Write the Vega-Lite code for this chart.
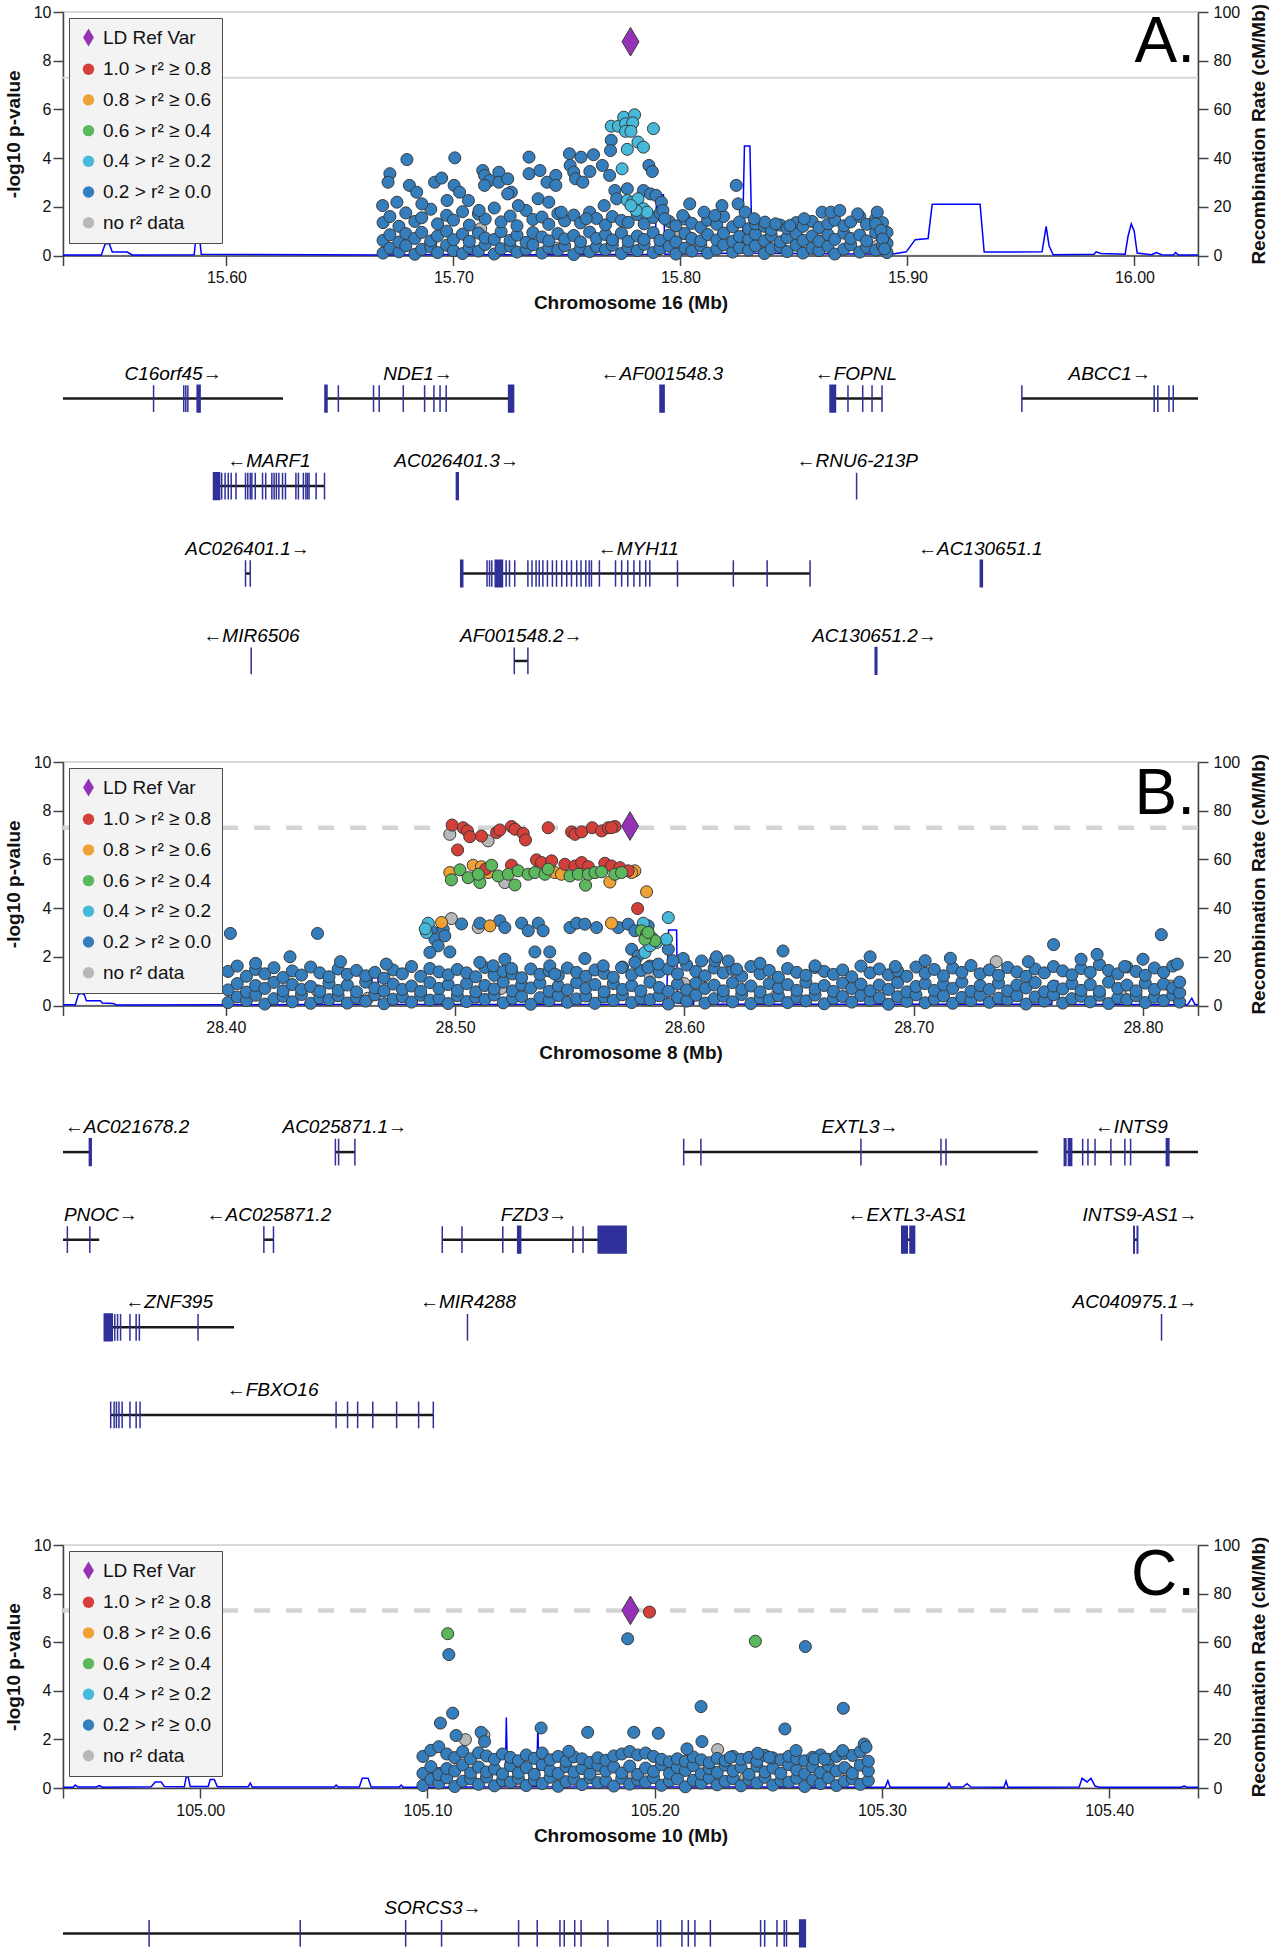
{
"$schema": "https://vega.github.io/schema/vega-lite/v6.json",
"padding": {"top": 2, "left": 3, "right": 0, "bottom": 0},
"background": "white",
"spacing": 0,
"bounds": "flush",
"config": {
 "font": "Liberation Sans",
 "view": {"stroke": null},
 "axis": {"grid": false, "domainColor": "#444444", "domainWidth": 1.5, "tickColor": "#444444", "tickWidth": 1.5, "tickSize": 10, "labelColor": "#111111", "labelFontSize": 16, "titleColor": "#111111", "titleFontSize": 19, "titleFontWeight": "bold", "labelOverlap": false, "labelFlush": false},
 "legend": {"orient": "top-left", "offset": 6, "padding": 10, "fillColor": "#f3f3f3", "strokeColor": "#4d4d4d", "labelFontSize": 19, "labelColor": "#111111", "symbolSize": 130, "rowPadding": 10.7, "labelOffset": 5, "symbolStrokeColor": "#444444", "symbolStrokeWidth": 1, "symbolOpacity": 1}
},
"resolve": {"scale": {"x": "independent", "y": "independent", "color": "independent", "shape": "independent"}},
"vconcat": [
 {
  "width": 1135, "height": 243.5,
  "view": {"stroke": "#d9d9d9", "strokeWidth": 2},
  "resolve": {"scale": {"y": "independent"}},
  "layer": [
   {"data": {"name": "recA"}, "mark": {"type": "line", "color": "#0000ff", "strokeWidth": 1.5},
    "encoding": {
     "x": {"field": "x", "type": "quantitative", "title": "Chromosome 16 (Mb)", "scale": {"domain": [15.528, 16.028], "nice": false, "zero": false},
       "axis": {"values": [15.528, 15.6, 15.7, 15.8, 15.9, 16.0, 16.028], "labelExpr": "datum.value < 15.55 || datum.value > 16.01 ? '' : format(datum.value, '.2f')", "labelPadding": 4, "titlePadding": 8}},
     "y": {"field": "r", "type": "quantitative", "title": "Recombination Rate (cM/Mb)", "scale": {"domain": [0, 100], "nice": false},
       "axis": {"orient": "right", "values": [0, 20, 40, 60, 80, 100], "titleAngle": 270, "titleBaseline": "top", "labelPadding": 5, "titlePadding": 10}}
    }},
   {"layer": [
    {"data": {"values": [{}]}, "mark": {"type": "rule", "color": "#d9d9d9", "strokeWidth": 2},
     "encoding": {"y": {"datum": 7.301, "type": "quantitative", "title": "-log10 p-value", "scale": {"domain": [0, 10], "nice": false},
       "axis": {"values": [0, 2, 4, 6, 8, 10], "labelPadding": 2, "titlePadding": 10}}}},
    {"data": {"name": "nA"}, "mark": {"type": "point", "filled": true, "opacity": 1, "stroke": "#3a3a3a", "strokeWidth": 1, "size": 145},
     "encoding": {"x": {"field": "x", "type": "quantitative", "title": "Chromosome 16 (Mb)"}, "y": {"field": "p", "type": "quantitative", "title": "-log10 p-value"},
      "color": {"datum": "n", "type": "nominal", "scale": {"domain": ["d","r","o","g","l","b","n"], "range": ["#9632b8","#d43f3a","#eea236","#5cb85c","#46b8da","#357ebd","#b8b8b8"]}},
      "shape": {"datum": "n", "type": "nominal", "scale": {"domain": ["d","r","o","g","l","b","n"], "range": ["M0,-1.6L0.95,0L0,1.6L-0.95,0Z","circle","circle","circle","circle","circle","circle"]}}}},
    {"data": {"name": "bA"}, "mark": {"type": "point", "filled": true, "opacity": 1, "stroke": "#3a3a3a", "strokeWidth": 1, "size": 145},
     "encoding": {"x": {"field": "x", "type": "quantitative", "title": "Chromosome 16 (Mb)"}, "y": {"field": "p", "type": "quantitative", "title": "-log10 p-value"},
      "color": {"datum": "b", "type": "nominal"},
      "shape": {"datum": "b", "type": "nominal"}}},
    {"data": {"name": "cA"}, "mark": {"type": "point", "filled": true, "opacity": 1, "stroke": "#3a3a3a", "strokeWidth": 1},
     "encoding": {"x": {"field": "x", "type": "quantitative", "title": "Chromosome 16 (Mb)"}, "y": {"field": "p", "type": "quantitative", "title": "-log10 p-value"},
      "size": {"condition": {"test": "datum.c === 'd'", "value": 320}, "value": 145},
      "color": {"field": "c", "type": "nominal", "title": null, "legend": {"labelExpr": "datum.label == 'd' ? 'LD Ref Var' : datum.label == 'r' ? '1.0 > r² ≥ 0.8' : datum.label == 'o' ? '0.8 > r² ≥ 0.6' : datum.label == 'g' ? '0.6 > r² ≥ 0.4' : datum.label == 'l' ? '0.4 > r² ≥ 0.2' : datum.label == 'b' ? '0.2 > r² ≥ 0.0' : 'no r² data'"}},
      "shape": {"field": "c", "type": "nominal", "title": null, "legend": {"labelExpr": "datum.label == 'd' ? 'LD Ref Var' : datum.label == 'r' ? '1.0 > r² ≥ 0.8' : datum.label == 'o' ? '0.8 > r² ≥ 0.6' : datum.label == 'g' ? '0.6 > r² ≥ 0.4' : datum.label == 'l' ? '0.4 > r² ≥ 0.2' : datum.label == 'b' ? '0.2 > r² ≥ 0.0' : 'no r² data'"}}}},
    {"data": {"values": [{}]}, "mark": {"type": "text", "text": "A.", "fontSize": 64, "align": "right", "baseline": "alphabetic", "dx": -3, "dy": 50, "color": "#000000"},
     "encoding": {"x": {"datum": 16.028, "type": "quantitative", "title": "Chromosome 16 (Mb)"}, "y": {"datum": 10, "type": "quantitative", "title": "-log10 p-value"}}}
   ]}
  ]
 },
 {
  "width": 1135, "height": 505.8,
  "layer": [
   {"data": {"name": "gA"}, "mark": {"type": "rule", "color": "#1a1a1a", "strokeWidth": 2.5},
    "encoding": {"x": {"field": "s", "type": "quantitative", "scale": {"domain": [15.528, 16.028], "nice": false, "zero": false}, "axis": null}, "x2": {"field": "e"},
     "y": {"field": "r", "type": "ordinal", "scale": {"domain": [0, 1, 2, 3, 4], "paddingInner": 0.6948, "paddingOuter": 0.7393, "align": 0.3234}, "axis": null}}},
   {"data": {"name": "eA"}, "mark": {"type": "rect", "color": "#30309a", "stroke": "#30309a", "strokeWidth": 1.5},
    "encoding": {"x": {"field": "s", "type": "quantitative", "axis": null}, "x2": {"field": "e"}, "y": {"field": "r", "type": "ordinal", "axis": null}}},
   {"data": {"name": "gA"}, "mark": {"type": "text", "fontSize": 19, "fontStyle": "italic", "dy": -19, "baseline": "alphabetic", "color": "#000000"},
    "encoding": {"x": {"field": "lx", "type": "quantitative", "axis": null}, "y": {"field": "r", "type": "ordinal", "axis": null}, "text": {"field": "label"}}}
  ]
 },
 {
  "width": 1135, "height": 243.5,
  "view": {"stroke": "#d9d9d9", "strokeWidth": 2},
  "resolve": {"scale": {"y": "independent"}},
  "layer": [
   {"data": {"name": "recB"}, "mark": {"type": "line", "color": "#0000ff", "strokeWidth": 1.5},
    "encoding": {
     "x": {"field": "x", "type": "quantitative", "title": "Chromosome 8 (Mb)", "scale": {"domain": [28.329, 28.824], "nice": false, "zero": false},
       "axis": {"values": [28.329, 28.4, 28.5, 28.6, 28.7, 28.8, 28.824], "labelExpr": "datum.value < 28.35 || datum.value > 28.81 ? '' : format(datum.value, '.2f')", "labelPadding": 4, "titlePadding": 8}},
     "y": {"field": "r", "type": "quantitative", "title": "Recombination Rate (cM/Mb)", "scale": {"domain": [0, 100], "nice": false},
       "axis": {"orient": "right", "values": [0, 20, 40, 60, 80, 100], "titleAngle": 270, "titleBaseline": "top", "labelPadding": 5, "titlePadding": 10}}
    }},
   {"layer": [
    {"data": {"values": [{}]}, "mark": {"type": "rule", "color": "#d4d4d4", "strokeWidth": 4.5, "strokeDash": [16, 16]},
     "encoding": {"y": {"datum": 7.301, "type": "quantitative", "title": "-log10 p-value", "scale": {"domain": [0, 10], "nice": false},
       "axis": {"values": [0, 2, 4, 6, 8, 10], "labelPadding": 2, "titlePadding": 10}}}},
    {"data": {"name": "nB"}, "mark": {"type": "point", "filled": true, "opacity": 1, "stroke": "#3a3a3a", "strokeWidth": 1, "size": 145},
     "encoding": {"x": {"field": "x", "type": "quantitative", "title": "Chromosome 8 (Mb)"}, "y": {"field": "p", "type": "quantitative", "title": "-log10 p-value"},
      "color": {"datum": "n", "type": "nominal", "scale": {"domain": ["d","r","o","g","l","b","n"], "range": ["#9632b8","#d43f3a","#eea236","#5cb85c","#46b8da","#357ebd","#b8b8b8"]}},
      "shape": {"datum": "n", "type": "nominal", "scale": {"domain": ["d","r","o","g","l","b","n"], "range": ["M0,-1.6L0.95,0L0,1.6L-0.95,0Z","circle","circle","circle","circle","circle","circle"]}}}},
    {"data": {"name": "bB"}, "mark": {"type": "point", "filled": true, "opacity": 1, "stroke": "#3a3a3a", "strokeWidth": 1, "size": 145},
     "encoding": {"x": {"field": "x", "type": "quantitative", "title": "Chromosome 8 (Mb)"}, "y": {"field": "p", "type": "quantitative", "title": "-log10 p-value"},
      "color": {"datum": "b", "type": "nominal"},
      "shape": {"datum": "b", "type": "nominal"}}},
    {"data": {"name": "cB"}, "mark": {"type": "point", "filled": true, "opacity": 1, "stroke": "#3a3a3a", "strokeWidth": 1},
     "encoding": {"x": {"field": "x", "type": "quantitative", "title": "Chromosome 8 (Mb)"}, "y": {"field": "p", "type": "quantitative", "title": "-log10 p-value"},
      "size": {"condition": {"test": "datum.c === 'd'", "value": 320}, "value": 145},
      "color": {"field": "c", "type": "nominal", "title": null, "legend": {"labelExpr": "datum.label == 'd' ? 'LD Ref Var' : datum.label == 'r' ? '1.0 > r² ≥ 0.8' : datum.label == 'o' ? '0.8 > r² ≥ 0.6' : datum.label == 'g' ? '0.6 > r² ≥ 0.4' : datum.label == 'l' ? '0.4 > r² ≥ 0.2' : datum.label == 'b' ? '0.2 > r² ≥ 0.0' : 'no r² data'"}},
      "shape": {"field": "c", "type": "nominal", "title": null, "legend": {"labelExpr": "datum.label == 'd' ? 'LD Ref Var' : datum.label == 'r' ? '1.0 > r² ≥ 0.8' : datum.label == 'o' ? '0.8 > r² ≥ 0.6' : datum.label == 'g' ? '0.6 > r² ≥ 0.4' : datum.label == 'l' ? '0.4 > r² ≥ 0.2' : datum.label == 'b' ? '0.2 > r² ≥ 0.0' : 'no r² data'"}}}},
    {"data": {"values": [{}]}, "mark": {"type": "text", "text": "B.", "fontSize": 64, "align": "right", "baseline": "alphabetic", "dx": -3, "dy": 52, "color": "#000000"},
     "encoding": {"x": {"datum": 28.824, "type": "quantitative", "title": "Chromosome 8 (Mb)"}, "y": {"datum": 10, "type": "quantitative", "title": "-log10 p-value"}}}
   ]}
  ]
 },
 {
  "width": 1135, "height": 539,
  "layer": [
   {"data": {"name": "gB"}, "mark": {"type": "rule", "color": "#1a1a1a", "strokeWidth": 2.5},
    "encoding": {"x": {"field": "s", "type": "quantitative", "scale": {"domain": [28.329, 28.824], "nice": false, "zero": false}, "axis": null}, "x2": {"field": "e"},
     "y": {"field": "r", "type": "ordinal", "scale": {"domain": [0, 1, 2, 3, 4], "paddingInner": 0.6952, "paddingOuter": 0.924, "align": 0.2789}, "axis": null}}},
   {"data": {"name": "eB"}, "mark": {"type": "rect", "color": "#30309a", "stroke": "#30309a", "strokeWidth": 1.5},
    "encoding": {"x": {"field": "s", "type": "quantitative", "axis": null}, "x2": {"field": "e"}, "y": {"field": "r", "type": "ordinal", "axis": null}}},
   {"data": {"name": "gB"}, "mark": {"type": "text", "fontSize": 19, "fontStyle": "italic", "dy": -19, "baseline": "alphabetic", "color": "#000000"},
    "encoding": {"x": {"field": "lx", "type": "quantitative", "axis": null}, "y": {"field": "r", "type": "ordinal", "axis": null}, "text": {"field": "label"}}}
  ]
 },
 {
  "width": 1135, "height": 243,
  "view": {"stroke": "#d9d9d9", "strokeWidth": 2},
  "resolve": {"scale": {"y": "independent"}},
  "layer": [
   {"data": {"name": "recC"}, "mark": {"type": "line", "color": "#0000ff", "strokeWidth": 1.5},
    "encoding": {
     "x": {"field": "x", "type": "quantitative", "title": "Chromosome 10 (Mb)", "scale": {"domain": [104.9396, 105.4391], "nice": false, "zero": false},
       "axis": {"values": [104.9396, 105.0, 105.1, 105.2, 105.3, 105.4, 105.4391], "labelExpr": "datum.value < 104.96 || datum.value > 105.42 ? '' : format(datum.value, '.2f')", "labelPadding": 4, "titlePadding": 8}},
     "y": {"field": "r", "type": "quantitative", "title": "Recombination Rate (cM/Mb)", "scale": {"domain": [0, 100], "nice": false},
       "axis": {"orient": "right", "values": [0, 20, 40, 60, 80, 100], "titleAngle": 270, "titleBaseline": "top", "labelPadding": 5, "titlePadding": 10}}
    }},
   {"layer": [
    {"data": {"values": [{}]}, "mark": {"type": "rule", "color": "#d4d4d4", "strokeWidth": 4.5, "strokeDash": [16, 16]},
     "encoding": {"y": {"datum": 7.301, "type": "quantitative", "title": "-log10 p-value", "scale": {"domain": [0, 10], "nice": false},
       "axis": {"values": [0, 2, 4, 6, 8, 10], "labelPadding": 2, "titlePadding": 10}}}},
    {"data": {"name": "nC"}, "mark": {"type": "point", "filled": true, "opacity": 1, "stroke": "#3a3a3a", "strokeWidth": 1, "size": 145},
     "encoding": {"x": {"field": "x", "type": "quantitative", "title": "Chromosome 10 (Mb)"}, "y": {"field": "p", "type": "quantitative", "title": "-log10 p-value"},
      "color": {"datum": "n", "type": "nominal", "scale": {"domain": ["d","r","o","g","l","b","n"], "range": ["#9632b8","#d43f3a","#eea236","#5cb85c","#46b8da","#357ebd","#b8b8b8"]}},
      "shape": {"datum": "n", "type": "nominal", "scale": {"domain": ["d","r","o","g","l","b","n"], "range": ["M0,-1.6L0.95,0L0,1.6L-0.95,0Z","circle","circle","circle","circle","circle","circle"]}}}},
    {"data": {"name": "bC"}, "mark": {"type": "point", "filled": true, "opacity": 1, "stroke": "#3a3a3a", "strokeWidth": 1, "size": 145},
     "encoding": {"x": {"field": "x", "type": "quantitative", "title": "Chromosome 10 (Mb)"}, "y": {"field": "p", "type": "quantitative", "title": "-log10 p-value"},
      "color": {"datum": "b", "type": "nominal"},
      "shape": {"datum": "b", "type": "nominal"}}},
    {"data": {"name": "cC"}, "mark": {"type": "point", "filled": true, "opacity": 1, "stroke": "#3a3a3a", "strokeWidth": 1},
     "encoding": {"x": {"field": "x", "type": "quantitative", "title": "Chromosome 10 (Mb)"}, "y": {"field": "p", "type": "quantitative", "title": "-log10 p-value"},
      "size": {"condition": {"test": "datum.c === 'd'", "value": 320}, "value": 145},
      "color": {"field": "c", "type": "nominal", "title": null, "legend": {"labelExpr": "datum.label == 'd' ? 'LD Ref Var' : datum.label == 'r' ? '1.0 > r² ≥ 0.8' : datum.label == 'o' ? '0.8 > r² ≥ 0.6' : datum.label == 'g' ? '0.6 > r² ≥ 0.4' : datum.label == 'l' ? '0.4 > r² ≥ 0.2' : datum.label == 'b' ? '0.2 > r² ≥ 0.0' : 'no r² data'"}},
      "shape": {"field": "c", "type": "nominal", "title": null, "legend": {"labelExpr": "datum.label == 'd' ? 'LD Ref Var' : datum.label == 'r' ? '1.0 > r² ≥ 0.8' : datum.label == 'o' ? '0.8 > r² ≥ 0.6' : datum.label == 'g' ? '0.6 > r² ≥ 0.4' : datum.label == 'l' ? '0.4 > r² ≥ 0.2' : datum.label == 'b' ? '0.2 > r² ≥ 0.0' : 'no r² data'"}}}},
    {"data": {"values": [{}]}, "mark": {"type": "text", "text": "C.", "fontSize": 64, "align": "right", "baseline": "alphabetic", "dx": -3, "dy": 50, "color": "#000000"},
     "encoding": {"x": {"datum": 105.4391, "type": "quantitative", "title": "Chromosome 10 (Mb)"}, "y": {"datum": 10, "type": "quantitative", "title": "-log10 p-value"}}}
   ]}
  ]
 },
 {
  "width": 1135, "height": 162,
  "layer": [
   {"data": {"name": "gC"}, "mark": {"type": "rule", "color": "#1a1a1a", "strokeWidth": 2.5},
    "encoding": {"x": {"field": "s", "type": "quantitative", "scale": {"domain": [104.9396, 105.4391], "nice": false, "zero": false}, "axis": null}, "x2": {"field": "e"},
     "y": {"field": "r", "type": "ordinal", "scale": {"domain": [0, 1], "paddingInner": 0.408, "paddingOuter": 1, "align": 0.964}, "axis": null}}},
   {"data": {"name": "eC"}, "mark": {"type": "rect", "color": "#30309a", "stroke": "#30309a", "strokeWidth": 1.5},
    "encoding": {"x": {"field": "s", "type": "quantitative", "axis": null}, "x2": {"field": "e"}, "y": {"field": "r", "type": "ordinal", "axis": null}}},
   {"data": {"name": "gC"}, "mark": {"type": "text", "fontSize": 19, "fontStyle": "italic", "dy": -19, "baseline": "alphabetic", "color": "#000000"},
    "encoding": {"x": {"field": "lx", "type": "quantitative", "axis": null}, "y": {"field": "r", "type": "ordinal", "axis": null}, "text": {"field": "label"}}}
  ]
 }
],
"datasets": {
 "recA": [{"x":15.528,"r":0.2},{"x":15.5449,"r":0.2},{"x":15.5466,"r":4.8},{"x":15.5484,"r":4.8},{"x":15.5497,"r":1.4},{"x":15.5563,"r":1.4},{"x":15.5585,"r":0.2},{"x":15.5858,"r":0.3},{"x":15.5867,"r":9},{"x":15.588,"r":9},{"x":15.5889,"r":0.5},{"x":15.6682,"r":0.2},{"x":15.7,"r":0.4},{"x":15.74,"r":0.3},{"x":15.7888,"r":0.5},{"x":15.7895,"r":25},{"x":15.7925,"r":25},{"x":15.7932,"r":0.5},{"x":15.8272,"r":1},{"x":15.8282,"r":45},{"x":15.8306,"r":45},{"x":15.8316,"r":1},{"x":15.8929,"r":0.5},{"x":15.8995,"r":1.5},{"x":15.9034,"r":6.5},{"x":15.9091,"r":7},{"x":15.9109,"r":21},{"x":15.932,"r":21},{"x":15.9338,"r":1.4},{"x":15.9593,"r":1.5},{"x":15.9611,"r":12},{"x":15.9624,"r":4},{"x":15.9642,"r":0.3},{"x":15.9822,"r":0.5},{"x":15.9831,"r":1.5},{"x":15.9853,"r":0.8},{"x":15.9959,"r":0.5},{"x":15.9972,"r":8},{"x":15.9986,"r":13},{"x":15.9999,"r":10},{"x":16.0012,"r":1},{"x":16.0075,"r":0.3},{"x":16.0097,"r":1.2},{"x":16.0119,"r":0.3},{"x":16.0172,"r":0.2},{"x":16.0181,"r":1.2},{"x":16.0194,"r":0.2},{"x":16.028,"r":0.2}],
 "nA": [{"x":15.69,"p":0.5},{"x":15.745,"p":0.3},{"x":15.77,"p":0.6},{"x":15.8,"p":0.9},{"x":15.838,"p":0.4},{"x":15.862,"p":0.7},{"x":15.887,"p":0.4},{"x":15.712,"p":1.1},{"x":15.85,"p":1.2}],
 "bA": [
{"x":15.669,"p":0.10},{"x":15.669,"p":0.62},{"x":15.669,"p":1.35},
{"x":15.672,"p":0.30},{"x":15.672,"p":0.85},{"x":15.672,"p":1.60},
{"x":15.676,"p":0.15},{"x":15.676,"p":0.55},{"x":15.676,"p":1.20},
{"x":15.679,"p":0.40},{"x":15.679,"p":0.90},{"x":15.679,"p":1.75},
{"x":15.683,"p":0.05},{"x":15.683,"p":0.70},{"x":15.683,"p":1.40},
{"x":15.686,"p":0.25},{"x":15.686,"p":0.95},{"x":15.686,"p":1.55},
{"x":15.690,"p":0.35},{"x":15.690,"p":0.60},{"x":15.690,"p":1.90},
{"x":15.693,"p":0.12},{"x":15.693,"p":0.80},{"x":15.693,"p":1.30},
{"x":15.697,"p":0.42},{"x":15.697,"p":1.00},{"x":15.697,"p":1.65},
{"x":15.700,"p":0.20},{"x":15.700,"p":0.65},{"x":15.700,"p":1.45},
{"x":15.704,"p":0.08},{"x":15.704,"p":0.88},{"x":15.704,"p":1.80},
{"x":15.707,"p":0.33},{"x":15.707,"p":0.58},{"x":15.707,"p":1.25},
{"x":15.711,"p":0.18},{"x":15.711,"p":0.92},{"x":15.711,"p":1.70},
{"x":15.714,"p":0.45},{"x":15.714,"p":0.72},{"x":15.714,"p":1.50},
{"x":15.718,"p":0.06},{"x":15.718,"p":0.66},{"x":15.718,"p":1.95},
{"x":15.721,"p":0.28},{"x":15.721,"p":0.98},{"x":15.721,"p":1.38},
{"x":15.725,"p":0.38},{"x":15.725,"p":0.62},{"x":15.725,"p":1.62},
{"x":15.728,"p":0.14},{"x":15.728,"p":0.84},{"x":15.728,"p":1.22},
{"x":15.732,"p":0.26},{"x":15.732,"p":0.54},{"x":15.732,"p":1.85},
{"x":15.735,"p":0.44},{"x":15.735,"p":0.94},{"x":15.735,"p":1.48},
{"x":15.739,"p":0.10},{"x":15.739,"p":0.76},{"x":15.739,"p":1.58},
{"x":15.742,"p":0.32},{"x":15.742,"p":0.60},{"x":15.742,"p":1.28},
{"x":15.746,"p":0.22},{"x":15.746,"p":0.90},{"x":15.746,"p":1.72},
{"x":15.749,"p":0.40},{"x":15.749,"p":0.68},{"x":15.749,"p":1.42},
{"x":15.753,"p":0.04},{"x":15.753,"p":0.82},{"x":15.753,"p":1.66},
{"x":15.756,"p":0.30},{"x":15.756,"p":0.56},{"x":15.756,"p":1.34},
{"x":15.760,"p":0.16},{"x":15.760,"p":0.96},{"x":15.760,"p":1.78},
{"x":15.763,"p":0.36},{"x":15.763,"p":0.70},{"x":15.763,"p":1.52},
{"x":15.767,"p":0.24},{"x":15.767,"p":0.86},{"x":15.767,"p":1.26},
{"x":15.770,"p":0.42},{"x":15.770,"p":0.64},{"x":15.770,"p":1.60},
{"x":15.774,"p":0.08},{"x":15.774,"p":0.92},{"x":15.774,"p":1.44},
{"x":15.777,"p":0.34},{"x":15.777,"p":0.58},{"x":15.777,"p":1.36},
{"x":15.781,"p":0.20},{"x":15.781,"p":0.80},{"x":15.781,"p":1.68},
{"x":15.784,"p":0.46},{"x":15.784,"p":0.66},{"x":15.784,"p":1.30},
{"x":15.788,"p":0.12},{"x":15.788,"p":0.94},{"x":15.788,"p":1.56},
{"x":15.791,"p":0.28},{"x":15.791,"p":0.62},{"x":15.791,"p":1.74},
{"x":15.795,"p":0.38},{"x":15.795,"p":0.84},{"x":15.795,"p":1.40},
{"x":15.798,"p":0.06},{"x":15.798,"p":0.56},{"x":15.798,"p":1.22},
{"x":15.802,"p":0.30},{"x":15.802,"p":0.90},{"x":15.802,"p":1.50},
{"x":15.805,"p":0.18},{"x":15.805,"p":0.70},{"x":15.805,"p":1.32},
{"x":15.809,"p":0.40},{"x":15.809,"p":0.60},{"x":15.809,"p":1.15},
{"x":15.812,"p":0.10},{"x":15.812,"p":0.86},{"x":15.812,"p":1.45},
{"x":15.816,"p":0.26},{"x":15.816,"p":0.64},{"x":15.816,"p":1.28},
{"x":15.819,"p":0.44},{"x":15.819,"p":0.92},{"x":15.819,"p":1.60},
{"x":15.823,"p":0.14},{"x":15.823,"p":0.58},{"x":15.823,"p":1.18},
{"x":15.826,"p":0.32},{"x":15.826,"p":0.78},{"x":15.826,"p":1.38},
{"x":15.830,"p":0.22},{"x":15.830,"p":0.66},{"x":15.830,"p":1.10},
{"x":15.833,"p":0.40},{"x":15.833,"p":0.88},{"x":15.833,"p":1.30},
{"x":15.837,"p":0.08},{"x":15.837,"p":0.60},{"x":15.837,"p":1.20},
{"x":15.840,"p":0.28},{"x":15.840,"p":0.82},{"x":15.840,"p":1.05},
{"x":15.844,"p":0.36},{"x":15.844,"p":0.56},{"x":15.844,"p":1.25},
{"x":15.847,"p":0.16},{"x":15.847,"p":0.74},{"x":15.847,"p":1.12},
{"x":15.851,"p":0.42},{"x":15.851,"p":0.90},{"x":15.851,"p":1.35},
{"x":15.854,"p":0.10},{"x":15.854,"p":0.62},{"x":15.854,"p":1.20},
{"x":15.858,"p":0.30},{"x":15.858,"p":0.80},{"x":15.858,"p":1.40},
{"x":15.861,"p":0.20},{"x":15.861,"p":0.58},{"x":15.861,"p":1.15},
{"x":15.865,"p":0.38},{"x":15.865,"p":0.86},{"x":15.865,"p":1.30},
{"x":15.868,"p":0.06},{"x":15.868,"p":0.66},{"x":15.868,"p":1.45},
{"x":15.872,"p":0.26},{"x":15.872,"p":0.92},{"x":15.872,"p":1.22},
{"x":15.875,"p":0.44},{"x":15.875,"p":0.70},{"x":15.875,"p":1.38},
{"x":15.879,"p":0.14},{"x":15.879,"p":0.84},{"x":15.879,"p":1.60},
{"x":15.882,"p":0.34},{"x":15.882,"p":0.60},{"x":15.882,"p":1.28},
{"x":15.886,"p":0.22},{"x":15.886,"p":0.94},{"x":15.886,"p":1.50},
{"x":15.889,"p":0.40},{"x":15.889,"p":0.72},{"x":15.889,"p":1.35},
{"x":15.891,"p":0.12},{"x":15.891,"p":0.50},{"x":15.891,"p":0.95},
{"x":15.6795,"p":3.94},{"x":15.7006,"p":4.01},{"x":15.672,"p":3.36},{"x":15.6712,"p":3.01},{"x":15.6806,"p":2.88},{"x":15.6838,"p":2.6},{"x":15.6917,"p":3.01},{"x":15.6948,"p":3.18},{"x":15.7003,"p":2.88},{"x":15.7027,"p":2.6},
{"x":15.7129,"p":3.49},{"x":15.7137,"p":3.29},{"x":15.716,"p":3.08},{"x":15.7137,"p":2.88},{"x":15.72,"p":3.42},{"x":15.72,"p":3.01},{"x":15.7239,"p":3.15},{"x":15.7255,"p":2.6},{"x":15.7239,"p":2.53},
{"x":15.7333,"p":4.04},{"x":15.7333,"p":3.36},{"x":15.7381,"p":3.49},{"x":15.7412,"p":3.01},{"x":15.7451,"p":3.29},{"x":15.7451,"p":2.88},{"x":15.7373,"p":2.33},{"x":15.742,"p":2.19},
{"x":15.7511,"p":4.18},{"x":15.7562,"p":4.04},{"x":15.7617,"p":4.14},{"x":15.7514,"p":3.7},{"x":15.753,"p":3.42},{"x":15.7538,"p":3.15},{"x":15.757,"p":3.01},{"x":15.7601,"p":3.45},{"x":15.7656,"p":3.7},{"x":15.7688,"p":3.29},
{"x":15.7695,"p":4.73},{"x":15.7692,"p":4.31},{"x":15.7711,"p":2.67},{"x":15.7719,"p":2.33},{"x":15.7664,"p":2.05},{"x":15.7766,"p":2.74},
{"x":15.7861,"p":3.7},{"x":15.7876,"p":3.45},{"x":15.7837,"p":2.67},{"x":15.7868,"p":2.53},{"x":15.7892,"p":2.47},{"x":15.7916,"p":2.19},{"x":15.7923,"p":1.85},{"x":15.7931,"p":1.51},
{"x":15.8041,"p":2.12},{"x":15.8104,"p":1.78},{"x":15.8183,"p":2.05},{"x":15.8246,"p":2.88},{"x":15.8254,"p":2.12},{"x":15.8285,"p":1.78},{"x":15.8372,"p":1.37},{"x":15.8419,"p":1.3},
{"x":15.8624,"p":1.78},{"x":15.8663,"p":1.78},{"x":15.8702,"p":1.85},{"x":15.8781,"p":1.71},{"x":15.8867,"p":1.78},{"x":15.886,"p":1.3},{"x":15.8883,"p":1.03},{"x":15.8891,"p":0.68},{"x":15.8899,"p":0.27},
{"x":15.6688,"p":2.05},{"x":15.6751,"p":2.19},{"x":15.6861,"p":2.12},{"x":15.6972,"p":2.26},{"x":15.7066,"p":2.26},{"x":15.7113,"p":1.85},{"x":15.7286,"p":2.05},{"x":15.7475,"p":1.78},{"x":15.7585,"p":1.51},
{"x":15.801,"p":1.64},{"x":15.8152,"p":1.64},{"x":15.8325,"p":1.51},{"x":15.8482,"p":1.23},{"x":15.8545,"p":1.51}
 ],
 "cA": [
{"x":15.7766,"p":2.26,"c":"l"},{"x":15.779,"p":2.19,"c":"l"},{"x":15.7813,"p":2.33,"c":"l"},{"x":15.7837,"p":1.92,"c":"l"},{"x":15.7853,"p":1.78,"c":"l"},{"x":15.7805,"p":1.85,"c":"l"},{"x":15.7782,"p":2.05,"c":"l"},
{"x":15.7743,"p":3.56,"c":"l"},{"x":15.7766,"p":4.36,"c":"l"},{"x":15.7813,"p":4.66,"c":"l"},{"x":15.7837,"p":4.45,"c":"l"},
{"x":15.7695,"p":5.31,"c":"l"},{"x":15.7727,"p":5.31,"c":"l"},{"x":15.775,"p":5.68,"c":"l"},{"x":15.7798,"p":5.78,"c":"l"},{"x":15.7758,"p":5.41,"c":"l"},{"x":15.779,"p":5.45,"c":"l"},{"x":15.7758,"p":5.1,"c":"l"},{"x":15.7782,"p":5.1,"c":"l"},{"x":15.7881,"p":5.21,"c":"l"},
{"x":15.778,"p":8.78,"c":"d"}
 ],
 "gA": [{"r":1,"s":15.528,"e":15.6249,"lx":15.5765,"label":"C16orf45→"},{"r":1,"s":15.6434,"e":15.7265,"lx":15.6844,"label":"NDE1→"},{"r":1,"s":15.791,"e":15.7928,"lx":15.7918,"label":"←AF001548.3"},{"r":1,"s":15.8659,"e":15.8889,"lx":15.8773,"label":"←FOPNL"},{"r":1,"s":15.9504,"e":16.028,"lx":15.9891,"label":"ABCC1→"},{"r":2,"s":15.5943,"e":15.6432,"lx":15.6187,"label":"←MARF1"},{"r":2,"s":15.7013,"e":15.7021,"lx":15.7014,"label":"AC026401.3→"},{"r":2,"s":15.8776,"e":15.8776,"lx":15.8779,"label":"←RNU6-213P"},{"r":3,"s":15.6084,"e":15.6105,"lx":15.6093,"label":"AC026401.1→"},{"r":3,"s":15.7032,"e":15.8571,"lx":15.7814,"label":"←MYH11"},{"r":3,"s":15.9321,"e":15.933,"lx":15.9321,"label":"←AC130651.1"},{"r":4,"s":15.6109,"e":15.6109,"lx":15.611,"label":"←MIR6506"},{"r":4,"s":15.7268,"e":15.7328,"lx":15.7299,"label":"AF001548.2→"},{"r":4,"s":15.8858,"e":15.8865,"lx":15.8855,"label":"AC130651.2→"}],
 "eA": [
{"r":1,"s":15.5679,"e":15.5679},{"r":1,"s":15.5812,"e":15.5812},{"r":1,"s":15.5821,"e":15.5821},{"r":1,"s":15.583,"e":15.583},{"r":1,"s":15.5871,"e":15.5884},
{"r":1,"s":15.6434,"e":15.6443},{"r":1,"s":15.6493,"e":15.6493},{"r":1,"s":15.6648,"e":15.6648},{"r":1,"s":15.6673,"e":15.6673},{"r":1,"s":15.6779,"e":15.6779},{"r":1,"s":15.6873,"e":15.6873},{"r":1,"s":15.6914,"e":15.6914},{"r":1,"s":15.6941,"e":15.6941},{"r":1,"s":15.6968,"e":15.6968},{"r":1,"s":15.7243,"e":15.7265},
{"r":1,"s":15.791,"e":15.7928},
{"r":1,"s":15.8659,"e":15.8683},{"r":1,"s":15.8738,"e":15.8738},{"r":1,"s":15.8803,"e":15.8803},{"r":1,"s":15.8844,"e":15.8844},{"r":1,"s":15.8888,"e":15.8888},
{"r":1,"s":15.9504,"e":15.9504},{"r":1,"s":16.0087,"e":16.0087},{"r":1,"s":16.0103,"e":16.0103},{"r":1,"s":16.0152,"e":16.0152},{"r":1,"s":16.0171,"e":16.0171},
{"r":2,"s":15.5943,"e":15.597},{"r":2,"s":15.5979,"e":15.5979},{"r":2,"s":15.5994,"e":15.5994},{"r":2,"s":15.6008,"e":15.6008},{"r":2,"s":15.6021,"e":15.6021},{"r":2,"s":15.6042,"e":15.6042},{"r":2,"s":15.6084,"e":15.6084},{"r":2,"s":15.6094,"e":15.6094},{"r":2,"s":15.6105,"e":15.6105},{"r":2,"s":15.6112,"e":15.6112},{"r":2,"s":15.6127,"e":15.6127},{"r":2,"s":15.6159,"e":15.6159},{"r":2,"s":15.6173,"e":15.6173},{"r":2,"s":15.62,"e":15.62},{"r":2,"s":15.621,"e":15.621},{"r":2,"s":15.622,"e":15.622},{"r":2,"s":15.6231,"e":15.6231},{"r":2,"s":15.6247,"e":15.6247},{"r":2,"s":15.626,"e":15.626},{"r":2,"s":15.6306,"e":15.6306},{"r":2,"s":15.6317,"e":15.6317},{"r":2,"s":15.6339,"e":15.6339},{"r":2,"s":15.635,"e":15.635},{"r":2,"s":15.6357,"e":15.6357},{"r":2,"s":15.6364,"e":15.6364},{"r":2,"s":15.6395,"e":15.6395},{"r":2,"s":15.6432,"e":15.6432},
{"r":2,"s":15.7013,"e":15.7021},{"r":2,"s":15.8776,"e":15.8776},
{"r":3,"s":15.6084,"e":15.6084},{"r":3,"s":15.6105,"e":15.6105},
{"r":3,"s":15.7032,"e":15.7041},{"r":3,"s":15.7148,"e":15.7148},{"r":3,"s":15.7159,"e":15.7159},{"r":3,"s":15.7169,"e":15.7169},{"r":3,"s":15.7184,"e":15.7216},{"r":3,"s":15.7232,"e":15.7232},{"r":3,"s":15.7247,"e":15.7247},{"r":3,"s":15.727,"e":15.727},{"r":3,"s":15.7328,"e":15.7328},{"r":3,"s":15.7346,"e":15.7346},{"r":3,"s":15.7364,"e":15.7364},{"r":3,"s":15.7378,"e":15.7378},{"r":3,"s":15.7394,"e":15.7394},{"r":3,"s":15.7414,"e":15.7414},{"r":3,"s":15.7436,"e":15.7436},{"r":3,"s":15.7454,"e":15.7454},{"r":3,"s":15.7477,"e":15.7477},{"r":3,"s":15.7499,"e":15.7499},{"r":3,"s":15.752,"e":15.752},{"r":3,"s":15.7543,"e":15.7543},{"r":3,"s":15.7562,"e":15.7562},{"r":3,"s":15.7583,"e":15.7583},{"r":3,"s":15.7598,"e":15.7598},{"r":3,"s":15.7608,"e":15.7608},{"r":3,"s":15.7643,"e":15.7643},{"r":3,"s":15.7714,"e":15.7714},{"r":3,"s":15.7741,"e":15.7741},{"r":3,"s":15.7768,"e":15.7768},{"r":3,"s":15.7795,"e":15.7795},{"r":3,"s":15.7821,"e":15.7821},{"r":3,"s":15.7847,"e":15.7847},{"r":3,"s":15.7865,"e":15.7865},{"r":3,"s":15.7987,"e":15.7987},{"r":3,"s":15.8233,"e":15.8233},{"r":3,"s":15.8382,"e":15.8382},{"r":3,"s":15.8571,"e":15.8571},
{"r":3,"s":15.9321,"e":15.933},
{"r":4,"s":15.6109,"e":15.6109},{"r":4,"s":15.7268,"e":15.7268},{"r":4,"s":15.7328,"e":15.7328},{"r":4,"s":15.8858,"e":15.8865}
 ],
 "recB": [{"x":28.329,"r":0.3},{"x":28.3344,"r":0.3},{"x":28.3357,"r":4.5},{"x":28.337,"r":5},{"x":28.3383,"r":4.5},{"x":28.3392,"r":2},{"x":28.3453,"r":2},{"x":28.3461,"r":1},{"x":28.3509,"r":0.8},{"x":28.3523,"r":0.2},{"x":28.4,"r":0.3},{"x":28.4631,"r":0.5},{"x":28.464,"r":14},{"x":28.4662,"r":14},{"x":28.467,"r":0.5},{"x":28.53,"r":0.4},{"x":28.5922,"r":0.5},{"x":28.5931,"r":31},{"x":28.5966,"r":31},{"x":28.597,"r":1},{"x":28.604,"r":0.5},{"x":28.6049,"r":12},{"x":28.6062,"r":12},{"x":28.6071,"r":0.5},{"x":28.7602,"r":0.5},{"x":28.7611,"r":10},{"x":28.7628,"r":10},{"x":28.7637,"r":0.5},{"x":28.8195,"r":0.3},{"x":28.8213,"r":3},{"x":28.8226,"r":0.5},{"x":28.824,"r":0.3}],
 "nB": [{"x":28.4977,"p":7.03},{"x":28.5144,"p":6.76},{"x":28.5217,"p":5.05},{"x":28.4984,"p":3.57},{"x":28.5101,"p":3.2},{"x":28.41,"p":0.5},{"x":28.44,"p":0.6},{"x":28.462,"p":0.3},{"x":28.52,"p":0.7},{"x":28.6,"p":0.9},{"x":28.64,"p":0.4},{"x":28.7,"p":0.6},{"x":28.736,"p":1.8},{"x":28.79,"p":0.5},{"x":28.812,"p":0.8},{"x":28.585,"p":1.25}],
 "bB": [
{"x":28.401,"p":0.12},{"x":28.401,"p":0.64},{"x":28.401,"p":1.40},
{"x":28.405,"p":0.35},{"x":28.405,"p":0.90},{"x":28.405,"p":1.62},
{"x":28.409,"p":0.20},{"x":28.409,"p":0.55},{"x":28.409,"p":1.20},
{"x":28.413,"p":0.42},{"x":28.413,"p":0.82},{"x":28.413,"p":1.48},
{"x":28.417,"p":0.06},{"x":28.417,"p":0.70},{"x":28.417,"p":1.30},
{"x":28.421,"p":0.28},{"x":28.421,"p":0.95},{"x":28.421,"p":1.55},
{"x":28.425,"p":0.38},{"x":28.425,"p":0.60},{"x":28.425,"p":1.15},
{"x":28.429,"p":0.15},{"x":28.429,"p":0.86},{"x":28.429,"p":1.42},
{"x":28.433,"p":0.45},{"x":28.433,"p":0.66},{"x":28.433,"p":1.25},
{"x":28.437,"p":0.09},{"x":28.437,"p":0.78},{"x":28.437,"p":1.58},
{"x":28.441,"p":0.31},{"x":28.441,"p":0.58},{"x":28.441,"p":1.34},
{"x":28.445,"p":0.24},{"x":28.445,"p":0.92},{"x":28.445,"p":1.18},
{"x":28.449,"p":0.40},{"x":28.449,"p":0.62},{"x":28.449,"p":1.50},
{"x":28.453,"p":0.10},{"x":28.453,"p":0.84},{"x":28.453,"p":1.28},
{"x":28.457,"p":0.33},{"x":28.457,"p":0.56},{"x":28.457,"p":1.44},
{"x":28.461,"p":0.18},{"x":28.461,"p":0.96},{"x":28.461,"p":1.22},
{"x":28.465,"p":0.44},{"x":28.465,"p":0.72},{"x":28.465,"p":1.36},
{"x":28.469,"p":0.07},{"x":28.469,"p":0.60},{"x":28.469,"p":1.12},
{"x":28.473,"p":0.26},{"x":28.473,"p":0.88},{"x":28.473,"p":1.46},
{"x":28.477,"p":0.36},{"x":28.477,"p":0.66},{"x":28.477,"p":1.30},
{"x":28.481,"p":0.14},{"x":28.481,"p":0.80},{"x":28.481,"p":1.60},
{"x":28.485,"p":0.42},{"x":28.485,"p":0.58},{"x":28.485,"p":1.20},
{"x":28.489,"p":0.22},{"x":28.489,"p":0.94},{"x":28.489,"p":1.52},
{"x":28.493,"p":0.30},{"x":28.493,"p":0.70},{"x":28.493,"p":1.38},
{"x":28.497,"p":0.08},{"x":28.497,"p":0.86},{"x":28.497,"p":1.26},
{"x":28.501,"p":0.40},{"x":28.501,"p":0.62},{"x":28.501,"p":1.48},
{"x":28.505,"p":0.16},{"x":28.505,"p":0.90},{"x":28.505,"p":1.34},
{"x":28.509,"p":0.34},{"x":28.509,"p":0.56},{"x":28.509,"p":1.18},
{"x":28.513,"p":0.25},{"x":28.513,"p":0.82},{"x":28.513,"p":1.56},
{"x":28.517,"p":0.43},{"x":28.517,"p":0.68},{"x":28.517,"p":1.24},
{"x":28.521,"p":0.11},{"x":28.521,"p":0.96},{"x":28.521,"p":1.40},
{"x":28.525,"p":0.29},{"x":28.525,"p":0.60},{"x":28.525,"p":1.30},
{"x":28.529,"p":0.37},{"x":28.529,"p":0.84},{"x":28.529,"p":1.14},
{"x":28.533,"p":0.05},{"x":28.533,"p":0.72},{"x":28.533,"p":1.50},
{"x":28.537,"p":0.32},{"x":28.537,"p":0.92},{"x":28.537,"p":1.28},
{"x":28.541,"p":0.20},{"x":28.541,"p":0.58},{"x":28.541,"p":1.42},
{"x":28.545,"p":0.41},{"x":28.545,"p":0.80},{"x":28.545,"p":1.22},
{"x":28.549,"p":0.13},{"x":28.549,"p":0.64},{"x":28.549,"p":1.54},
{"x":28.553,"p":0.27},{"x":28.553,"p":0.94},{"x":28.553,"p":1.36},
{"x":28.557,"p":0.39},{"x":28.557,"p":0.70},{"x":28.557,"p":1.20},
{"x":28.561,"p":0.09},{"x":28.561,"p":0.86},{"x":28.561,"p":1.46},
{"x":28.565,"p":0.35},{"x":28.565,"p":0.56},{"x":28.565,"p":1.32},
{"x":28.569,"p":0.21},{"x":28.569,"p":0.90},{"x":28.569,"p":1.16},
{"x":28.573,"p":0.44},{"x":28.573,"p":0.66},{"x":28.573,"p":1.58},
{"x":28.577,"p":0.12},{"x":28.577,"p":0.82},{"x":28.577,"p":1.26},
{"x":28.581,"p":0.30},{"x":28.581,"p":0.60},{"x":28.581,"p":1.44},
{"x":28.585,"p":0.24},{"x":28.585,"p":0.96},{"x":28.585,"p":1.62},
{"x":28.589,"p":0.40},{"x":28.589,"p":0.74},{"x":28.589,"p":1.38},
{"x":28.593,"p":0.06},{"x":28.593,"p":0.58},{"x":28.593,"p":1.50},
{"x":28.597,"p":0.33},{"x":28.597,"p":0.88},{"x":28.597,"p":1.30},
{"x":28.601,"p":0.18},{"x":28.601,"p":0.64},{"x":28.601,"p":1.66},
{"x":28.605,"p":0.42},{"x":28.605,"p":0.92},{"x":28.605,"p":1.40},
{"x":28.609,"p":0.10},{"x":28.609,"p":0.70},{"x":28.609,"p":1.22},
{"x":28.613,"p":0.28},{"x":28.613,"p":0.84},{"x":28.613,"p":1.54},
{"x":28.617,"p":0.38},{"x":28.617,"p":0.60},{"x":28.617,"p":1.34},
{"x":28.621,"p":0.15},{"x":28.621,"p":0.94},{"x":28.621,"p":1.48},
{"x":28.625,"p":0.45},{"x":28.625,"p":0.66},{"x":28.625,"p":1.20},
{"x":28.629,"p":0.08},{"x":28.629,"p":0.80},{"x":28.629,"p":1.60},
{"x":28.633,"p":0.31},{"x":28.633,"p":0.56},{"x":28.633,"p":1.30},
{"x":28.637,"p":0.23},{"x":28.637,"p":0.90},{"x":28.637,"p":1.44},
{"x":28.641,"p":0.40},{"x":28.641,"p":0.72},{"x":28.641,"p":1.16},
{"x":28.645,"p":0.12},{"x":28.645,"p":0.86},{"x":28.645,"p":1.52},
{"x":28.649,"p":0.34},{"x":28.649,"p":0.62},{"x":28.649,"p":1.36},
{"x":28.653,"p":0.19},{"x":28.653,"p":0.96},{"x":28.653,"p":1.24},
{"x":28.657,"p":0.43},{"x":28.657,"p":0.68},{"x":28.657,"p":1.56},
{"x":28.661,"p":0.07},{"x":28.661,"p":0.82},{"x":28.661,"p":1.40},
{"x":28.665,"p":0.29},{"x":28.665,"p":0.58},{"x":28.665,"p":1.28},
{"x":28.669,"p":0.37},{"x":28.669,"p":0.92},{"x":28.669,"p":1.46},
{"x":28.673,"p":0.14},{"x":28.673,"p":0.70},{"x":28.673,"p":1.18},
{"x":28.677,"p":0.41},{"x":28.677,"p":0.88},{"x":28.677,"p":1.62},
{"x":28.681,"p":0.22},{"x":28.681,"p":0.60},{"x":28.681,"p":1.34},
{"x":28.685,"p":0.32},{"x":28.685,"p":0.84},{"x":28.685,"p":1.50},
{"x":28.689,"p":0.05},{"x":28.689,"p":0.66},{"x":28.689,"p":1.26},
{"x":28.693,"p":0.36},{"x":28.693,"p":0.94},{"x":28.693,"p":1.42},
{"x":28.697,"p":0.17},{"x":28.697,"p":0.56},{"x":28.697,"p":1.20},
{"x":28.701,"p":0.44},{"x":28.701,"p":0.78},{"x":28.701,"p":1.58},
{"x":28.705,"p":0.11},{"x":28.705,"p":0.90},{"x":28.705,"p":1.32},
{"x":28.709,"p":0.27},{"x":28.709,"p":0.62},{"x":28.709,"p":1.48},
{"x":28.713,"p":0.39},{"x":28.713,"p":0.86},{"x":28.713,"p":1.22},
{"x":28.717,"p":0.09},{"x":28.717,"p":0.70},{"x":28.717,"p":1.54},
{"x":28.721,"p":0.33},{"x":28.721,"p":0.96},{"x":28.721,"p":1.36},
{"x":28.725,"p":0.20},{"x":28.725,"p":0.58},{"x":28.725,"p":1.64},
{"x":28.729,"p":0.42},{"x":28.729,"p":0.82},{"x":28.729,"p":1.30},
{"x":28.733,"p":0.13},{"x":28.733,"p":0.66},{"x":28.733,"p":1.46},
{"x":28.737,"p":0.30},{"x":28.737,"p":0.92},{"x":28.737,"p":1.24},
{"x":28.741,"p":0.25},{"x":28.741,"p":0.60},{"x":28.741,"p":1.56},
{"x":28.745,"p":0.40},{"x":28.745,"p":0.84},{"x":28.745,"p":1.38},
{"x":28.749,"p":0.06},{"x":28.749,"p":0.72},{"x":28.749,"p":1.20},
{"x":28.753,"p":0.35},{"x":28.753,"p":0.94},{"x":28.753,"p":1.50},
{"x":28.757,"p":0.18},{"x":28.757,"p":0.56},{"x":28.757,"p":1.34},
{"x":28.761,"p":0.44},{"x":28.761,"p":0.80},{"x":28.761,"p":1.60},
{"x":28.765,"p":0.10},{"x":28.765,"p":0.68},{"x":28.765,"p":1.42},
{"x":28.769,"p":0.28},{"x":28.769,"p":0.90},{"x":28.769,"p":1.26},
{"x":28.773,"p":0.38},{"x":28.773,"p":0.62},{"x":28.773,"p":1.52},
{"x":28.777,"p":0.15},{"x":28.777,"p":0.86},{"x":28.777,"p":1.36},
{"x":28.781,"p":0.42},{"x":28.781,"p":0.58},{"x":28.781,"p":1.68},
{"x":28.785,"p":0.08},{"x":28.785,"p":0.96},{"x":28.785,"p":1.44},
{"x":28.789,"p":0.31},{"x":28.789,"p":0.70},{"x":28.789,"p":1.30},
{"x":28.793,"p":0.24},{"x":28.793,"p":0.84},{"x":28.793,"p":1.58},
{"x":28.797,"p":0.40},{"x":28.797,"p":0.60},{"x":28.797,"p":1.40},
{"x":28.801,"p":0.12},{"x":28.801,"p":0.92},{"x":28.801,"p":1.24},
{"x":28.805,"p":0.34},{"x":28.805,"p":0.66},{"x":28.805,"p":1.54},
{"x":28.809,"p":0.20},{"x":28.809,"p":0.88},{"x":28.809,"p":1.36},
{"x":28.813,"p":0.43},{"x":28.813,"p":0.72},{"x":28.813,"p":1.62},
{"x":28.816,"p":0.14},{"x":28.816,"p":0.52},{"x":28.816,"p":0.96},
{"x":28.5028,"p":3.35},{"x":28.5108,"p":3.38},{"x":28.5195,"p":3.48},{"x":28.5217,"p":3.2},{"x":28.529,"p":3.38},{"x":28.5319,"p":3.07},{"x":28.5363,"p":3.38},{"x":28.5384,"p":3.07},{"x":28.5501,"p":3.2},{"x":28.553,"p":3.38},{"x":28.5566,"p":3.34},{"x":28.5617,"p":3.2},{"x":28.5712,"p":3.2},{"x":28.5755,"p":3.34},{"x":28.5784,"p":3.07},{"x":28.5842,"p":3.27},
{"x":28.4897,"p":3.07},{"x":28.4912,"p":2.72},{"x":28.4948,"p":3.13},{"x":28.4955,"p":2.86},{"x":28.4926,"p":2.45},{"x":28.4977,"p":2.2},{"x":28.489,"p":2.18},{"x":28.5348,"p":2.2},{"x":28.5413,"p":2.2},{"x":28.5566,"p":1.93},{"x":28.577,"p":2.31},{"x":28.5799,"p":2.04},{"x":28.593,"p":2.31},
{"x":28.5108,"p":1.77},{"x":28.5217,"p":1.9},{"x":28.5166,"p":1.63},{"x":28.5246,"p":1.52},{"x":28.5413,"p":1.63},{"x":28.5435,"p":1.29},{"x":28.5646,"p":1.63},{"x":28.5726,"p":1.56},{"x":28.5784,"p":1.77},{"x":28.5842,"p":1.56},{"x":28.5886,"p":1.7},{"x":28.5995,"p":1.93},{"x":28.6075,"p":1.83},{"x":28.6133,"p":1.83},{"x":28.6191,"p":1.83},{"x":28.6228,"p":1.49},
{"x":28.402,"p":2.96},{"x":28.44,"p":2.96},{"x":28.428,"p":2.0},{"x":28.413,"p":1.73},{"x":28.643,"p":2.24},{"x":28.633,"p":1.73},{"x":28.681,"p":2.0},{"x":28.705,"p":1.84},{"x":28.716,"p":1.94},{"x":28.761,"p":2.5},{"x":28.773,"p":1.9},{"x":28.808,"p":2.91},{"x":28.792,"p":1.6},{"x":28.614,"p":2.0},{"x":28.657,"p":1.63},{"x":28.595,"p":1.84},{"x":28.692,"p":1.6},{"x":28.75,"p":1.8},{"x":28.78,"p":2.1},{"x":28.8,"p":1.9},{"x":28.815,"p":1.7},{"x":28.45,"p":1.8},{"x":28.47,"p":1.7}
 ],
 "cB": [
{"x":28.4883,"p":3.38,"c":"l"},{"x":28.4875,"p":3.0,"c":"l"},{"x":28.487,"p":3.15,"c":"l"},{"x":28.5821,"p":3.38,"c":"l"},{"x":28.593,"p":3.61,"c":"l"},{"x":28.5879,"p":2.59,"c":"l"},{"x":28.5922,"p":2.72,"c":"l"},{"x":28.5828,"p":2.18,"c":"l"},{"x":28.585,"p":2.45,"c":"l"},
{"x":28.4941,"p":3.41,"c":"o"},{"x":28.5152,"p":3.27,"c":"o"},{"x":28.5682,"p":3.38,"c":"o"},
{"x":28.5813,"p":3.07,"c":"g"},{"x":28.5835,"p":2.93,"c":"g"},{"x":28.5857,"p":2.79,"c":"g"},{"x":28.5872,"p":2.66,"c":"g"},{"x":28.5828,"p":2.72,"c":"g"},{"x":28.5842,"p":3.0,"c":"g"},
{"x":28.4977,"p":5.46,"c":"o"},{"x":28.5079,"p":5.76,"c":"o"},{"x":28.5115,"p":5.7,"c":"o"},{"x":28.5144,"p":5.46,"c":"o"},{"x":28.5435,"p":5.46,"c":"o"},{"x":28.5464,"p":5.39,"c":"o"},{"x":28.5675,"p":5.07,"c":"o"},{"x":28.5784,"p":5.53,"c":"o"},{"x":28.577,"p":5.46,"c":"o"},{"x":28.5835,"p":4.67,"c":"o"},
{"x":28.5133,"p":5.6,"c":"r"},{"x":28.5246,"p":5.76,"c":"r"},{"x":28.5355,"p":5.98,"c":"r"},{"x":28.5377,"p":5.87,"c":"r"},{"x":28.5421,"p":5.94,"c":"r"},{"x":28.5479,"p":5.8,"c":"r"},{"x":28.5523,"p":5.73,"c":"r"},{"x":28.5552,"p":5.87,"c":"r"},{"x":28.5581,"p":5.7,"c":"r"},{"x":28.5653,"p":5.84,"c":"r"},{"x":28.5682,"p":5.73,"c":"r"},{"x":28.5719,"p":5.66,"c":"r"},{"x":28.5755,"p":5.53,"c":"r"},
{"x":28.4984,"p":5.16,"c":"g"},{"x":28.5021,"p":5.57,"c":"g"},{"x":28.5057,"p":5.25,"c":"g"},{"x":28.5108,"p":5.05,"c":"g"},{"x":28.5101,"p":5.39,"c":"g"},{"x":28.5159,"p":5.76,"c":"g"},{"x":28.5188,"p":5.32,"c":"g"},{"x":28.5232,"p":5.39,"c":"g"},{"x":28.5261,"p":4.95,"c":"g"},{"x":28.5275,"p":5.53,"c":"g"},{"x":28.5319,"p":5.39,"c":"g"},{"x":28.5348,"p":5.46,"c":"g"},{"x":28.5392,"p":5.39,"c":"g"},{"x":28.5406,"p":5.6,"c":"g"},{"x":28.5501,"p":5.32,"c":"g"},{"x":28.5537,"p":5.39,"c":"g"},{"x":28.5569,"p":4.94,"c":"g"},{"x":28.5581,"p":5.39,"c":"g"},{"x":28.561,"p":5.46,"c":"g"},{"x":28.5639,"p":5.49,"c":"g"},{"x":28.5697,"p":5.39,"c":"g"},{"x":28.5726,"p":5.46,"c":"g"},
{"x":28.4987,"p":7.41,"c":"r"},{"x":28.5035,"p":7.3,"c":"r"},{"x":28.5054,"p":7.17,"c":"r"},{"x":28.5064,"p":6.93,"c":"r"},{"x":28.5115,"p":6.96,"c":"r"},{"x":28.5181,"p":7.1,"c":"r"},{"x":28.5195,"p":7.21,"c":"r"},{"x":28.5246,"p":7.35,"c":"r"},{"x":28.5261,"p":7.24,"c":"r"},{"x":28.5297,"p":7.07,"c":"r"},{"x":28.5307,"p":6.8,"c":"r"},{"x":28.5406,"p":7.3,"c":"r"},{"x":28.5508,"p":7.13,"c":"r"},{"x":28.5523,"p":7.03,"c":"r"},{"x":28.5552,"p":7.13,"c":"r"},{"x":28.5598,"p":7.3,"c":"r"},{"x":28.5639,"p":7.17,"c":"r"},{"x":28.5668,"p":7.3,"c":"r"},{"x":28.5697,"p":7.35,"c":"r"},{"x":28.5682,"p":7.3,"c":"r"},{"x":28.5011,"p":6.39,"c":"r"},{"x":28.5796,"p":3.98,"c":"r"},
{"x":28.5763,"p":7.37,"c":"d"}
 ],
 "gB": [{"r":1,"s":28.329,"e":28.3409,"lx":28.3569,"label":"←AC021678.2"},{"r":1,"s":28.4478,"e":28.4563,"lx":28.4519,"label":"AC025871.1→"},{"r":1,"s":28.5997,"e":28.7541,"lx":28.6766,"label":"EXTL3→"},{"r":1,"s":28.7657,"e":28.824,"lx":28.7949,"label":"←INTS9"},{"r":2,"s":28.329,"e":28.3448,"lx":28.3455,"label":"PNOC→"},{"r":2,"s":28.4166,"e":28.4208,"lx":28.4188,"label":"←AC025871.2"},{"r":2,"s":28.4944,"e":28.5746,"lx":28.5344,"label":"FZD3→"},{"r":2,"s":28.6948,"e":28.7004,"lx":28.6972,"label":"←EXTL3-AS1"},{"r":2,"s":28.796,"e":28.7977,"lx":28.7987,"label":"INTS9-AS1→"},{"r":3,"s":28.347,"e":28.4036,"lx":28.3753,"label":"←ZNF395"},{"r":3,"s":28.5054,"e":28.5054,"lx":28.5056,"label":"←MIR4288"},{"r":3,"s":28.8081,"e":28.8081,"lx":28.7965,"label":"AC040975.1→"},{"r":4,"s":28.3498,"e":28.4905,"lx":28.4204,"label":"←FBXO16"}],
 "eB": [
{"r":1,"s":28.3405,"e":28.3413},{"r":1,"s":28.4478,"e":28.4478},{"r":1,"s":28.4492,"e":28.4492},{"r":1,"s":28.4563,"e":28.4563},
{"r":1,"s":28.5997,"e":28.5997},{"r":1,"s":28.6072,"e":28.6072},{"r":1,"s":28.677,"e":28.677},{"r":1,"s":28.7119,"e":28.7119},{"r":1,"s":28.7141,"e":28.7141},
{"r":1,"s":28.7657,"e":28.7664},{"r":1,"s":28.7675,"e":28.7689},{"r":1,"s":28.7737,"e":28.7737},{"r":1,"s":28.776,"e":28.776},{"r":1,"s":28.7791,"e":28.7791},{"r":1,"s":28.786,"e":28.786},{"r":1,"s":28.7921,"e":28.7921},{"r":1,"s":28.7946,"e":28.7946},{"r":1,"s":28.8102,"e":28.8113},
{"r":2,"s":28.3309,"e":28.3309},{"r":2,"s":28.3407,"e":28.3407},{"r":2,"s":28.4166,"e":28.4166},{"r":2,"s":28.4208,"e":28.4208},
{"r":2,"s":28.4944,"e":28.4944},{"r":2,"s":28.503,"e":28.503},{"r":2,"s":28.5208,"e":28.5208},{"r":2,"s":28.5273,"e":28.5286},{"r":2,"s":28.5514,"e":28.5514},{"r":2,"s":28.5558,"e":28.5558},{"r":2,"s":28.5624,"e":28.5746},
{"r":2,"s":28.6948,"e":28.6972},{"r":2,"s":28.6984,"e":28.7004},{"r":2,"s":28.796,"e":28.7962},{"r":2,"s":28.7975,"e":28.7977},
{"r":3,"s":28.347,"e":28.3505},{"r":3,"s":28.3516,"e":28.3516},{"r":3,"s":28.3528,"e":28.3528},{"r":3,"s":28.3541,"e":28.3541},{"r":3,"s":28.3582,"e":28.3582},{"r":3,"s":28.3609,"e":28.3609},{"r":3,"s":28.3623,"e":28.3623},{"r":3,"s":28.3879,"e":28.3879},{"r":3,"s":28.5054,"e":28.5054},{"r":3,"s":28.8081,"e":28.8081},
{"r":4,"s":28.3498,"e":28.3498},{"r":4,"s":28.3513,"e":28.3513},{"r":4,"s":28.3523,"e":28.3523},{"r":4,"s":28.3534,"e":28.3534},{"r":4,"s":28.3548,"e":28.3548},{"r":4,"s":28.3582,"e":28.3582},{"r":4,"s":28.3609,"e":28.3609},{"r":4,"s":28.3626,"e":28.3626},{"r":4,"s":28.4481,"e":28.4481},{"r":4,"s":28.4531,"e":28.4531},{"r":4,"s":28.4575,"e":28.4575},{"r":4,"s":28.4641,"e":28.4641},{"r":4,"s":28.4745,"e":28.4745},{"r":4,"s":28.4841,"e":28.4841},{"r":4,"s":28.4905,"e":28.4905}
 ],
 "recC": [{"x":104.9396,"r":0.3},{"x":104.9441,"r":0.3},{"x":104.945,"r":1.2},{"x":104.9463,"r":0.4},{"x":104.9543,"r":0.4},{"x":104.9556,"r":1.0},{"x":104.9569,"r":0.3},{"x":104.9784,"r":0.5},{"x":104.9802,"r":2.5},{"x":104.9828,"r":2.5},{"x":104.9842,"r":0.6},{"x":104.993,"r":0.5},{"x":104.9938,"r":4.5},{"x":104.9947,"r":4.5},{"x":104.9956,"r":0.6},{"x":105.0035,"r":0.6},{"x":105.0044,"r":3.5},{"x":105.0062,"r":3.5},{"x":105.0075,"r":0.5},{"x":105.0211,"r":0.5},{"x":105.022,"r":2},{"x":105.0229,"r":0.4},{"x":105.059,"r":0.4},{"x":105.0598,"r":1.2},{"x":105.0607,"r":0.4},{"x":105.07,"r":0.4},{"x":105.0713,"r":4},{"x":105.0739,"r":4},{"x":105.0752,"r":0.4},{"x":105.0876,"r":0.4},{"x":105.0884,"r":1.2},{"x":105.0893,"r":0.3},{"x":105.0972,"r":0.3},{"x":105.1342,"r":0.5},{"x":105.1347,"r":29},{"x":105.1353,"r":0.5},{"x":105.148,"r":0.5},{"x":105.1486,"r":26.5},{"x":105.1491,"r":0.5},{"x":105.2943,"r":0.3},{"x":105.3014,"r":0.3},{"x":105.3026,"r":3},{"x":105.3036,"r":0.3},{"x":105.3286,"r":0.3},{"x":105.3295,"r":2},{"x":105.3304,"r":0.4},{"x":105.3357,"r":0.4},{"x":105.3374,"r":1.8},{"x":105.3392,"r":0.4},{"x":105.3537,"r":0.3},{"x":105.3546,"r":2.8},{"x":105.3555,"r":0.3},{"x":105.3868,"r":0.4},{"x":105.3881,"r":4},{"x":105.3903,"r":2.5},{"x":105.392,"r":4},{"x":105.3938,"r":0.8},{"x":105.3956,"r":0.3},{"x":105.4316,"r":0.3},{"x":105.433,"r":0.8},{"x":105.4343,"r":0.3},{"x":105.4391,"r":0.3}],
 "nC": [{"x":105.1167,"p":1.99},{"x":105.1248,"p":2.18},{"x":105.2277,"p":1.58},{"x":105.105,"p":0.6},{"x":105.14,"p":0.3},{"x":105.175,"p":0.8},{"x":105.19,"p":0.5},{"x":105.24,"p":0.4},{"x":105.285,"p":0.7}],
 "bC": [
{"x":105.098,"p":0.10},{"x":105.098,"p":0.60},{"x":105.098,"p":1.30},
{"x":105.1015,"p":0.35},{"x":105.1015,"p":0.88},{"x":105.1015,"p":1.55},
{"x":105.105,"p":0.20},{"x":105.105,"p":0.55},{"x":105.105,"p":1.70},
{"x":105.1085,"p":0.42},{"x":105.1085,"p":0.80},{"x":105.1085,"p":1.40},
{"x":105.112,"p":0.06},{"x":105.112,"p":0.70},{"x":105.112,"p":1.25},
{"x":105.1155,"p":0.28},{"x":105.1155,"p":0.95},{"x":105.1155,"p":1.50},
{"x":105.119,"p":0.38},{"x":105.119,"p":0.62},{"x":105.119,"p":1.20},
{"x":105.1225,"p":0.15},{"x":105.1225,"p":0.86},{"x":105.1225,"p":1.45},
{"x":105.126,"p":0.45},{"x":105.126,"p":0.66},{"x":105.126,"p":1.32},
{"x":105.1295,"p":0.09},{"x":105.1295,"p":0.78},{"x":105.1295,"p":1.18},
{"x":105.133,"p":0.31},{"x":105.133,"p":0.58},{"x":105.133,"p":1.40},
{"x":105.1365,"p":0.24},{"x":105.1365,"p":0.92},{"x":105.1365,"p":1.26},
{"x":105.14,"p":0.40},{"x":105.14,"p":0.62},{"x":105.14,"p":1.12},
{"x":105.1435,"p":0.10},{"x":105.1435,"p":0.84},{"x":105.1435,"p":1.36},
{"x":105.147,"p":0.33},{"x":105.147,"p":0.56},{"x":105.147,"p":1.22},
{"x":105.1505,"p":0.18},{"x":105.1505,"p":0.96},{"x":105.1505,"p":1.44},
{"x":105.154,"p":0.44},{"x":105.154,"p":0.72},{"x":105.154,"p":1.16},
{"x":105.1575,"p":0.07},{"x":105.1575,"p":0.60},{"x":105.1575,"p":1.30},
{"x":105.161,"p":0.26},{"x":105.161,"p":0.88},{"x":105.161,"p":1.10},
{"x":105.1645,"p":0.36},{"x":105.1645,"p":0.66},{"x":105.1645,"p":1.28},
{"x":105.168,"p":0.14},{"x":105.168,"p":0.80},{"x":105.168,"p":1.20},
{"x":105.1715,"p":0.42},{"x":105.1715,"p":0.58},{"x":105.1715,"p":1.05},
{"x":105.175,"p":0.22},{"x":105.175,"p":0.94},{"x":105.175,"p":1.24},
{"x":105.1785,"p":0.30},{"x":105.1785,"p":0.70},{"x":105.1785,"p":1.14},
{"x":105.182,"p":0.08},{"x":105.182,"p":0.86},{"x":105.182,"p":1.32},
{"x":105.1855,"p":0.40},{"x":105.1855,"p":0.62},{"x":105.1855,"p":1.40},
{"x":105.189,"p":0.16},{"x":105.189,"p":0.90},{"x":105.189,"p":1.50},
{"x":105.1925,"p":0.34},{"x":105.1925,"p":0.56},{"x":105.1925,"p":1.36},
{"x":105.196,"p":0.25},{"x":105.196,"p":0.82},{"x":105.196,"p":1.44},
{"x":105.1995,"p":0.43},{"x":105.1995,"p":0.68},{"x":105.1995,"p":1.30},
{"x":105.203,"p":0.11},{"x":105.203,"p":0.96},{"x":105.203,"p":1.18},
{"x":105.2065,"p":0.29},{"x":105.2065,"p":0.60},{"x":105.2065,"p":1.08},
{"x":105.21,"p":0.37},{"x":105.21,"p":0.84},{"x":105.21,"p":1.20},
{"x":105.2135,"p":0.05},{"x":105.2135,"p":0.72},{"x":105.2135,"p":1.10},
{"x":105.217,"p":0.32},{"x":105.217,"p":0.92},{"x":105.217,"p":1.28},
{"x":105.2205,"p":0.20},{"x":105.2205,"p":0.58},{"x":105.2205,"p":1.16},
{"x":105.224,"p":0.41},{"x":105.224,"p":0.80},{"x":105.224,"p":1.04},
{"x":105.2275,"p":0.13},{"x":105.2275,"p":0.64},{"x":105.2275,"p":1.22},
{"x":105.231,"p":0.27},{"x":105.231,"p":0.94},{"x":105.231,"p":1.12},
{"x":105.2345,"p":0.39},{"x":105.2345,"p":0.70},{"x":105.2345,"p":1.30},
{"x":105.238,"p":0.09},{"x":105.238,"p":0.86},{"x":105.238,"p":1.18},
{"x":105.2415,"p":0.35},{"x":105.2415,"p":0.56},{"x":105.2415,"p":1.26},
{"x":105.245,"p":0.21},{"x":105.245,"p":0.90},{"x":105.245,"p":1.10},
{"x":105.2485,"p":0.44},{"x":105.2485,"p":0.66},{"x":105.2485,"p":1.34},
{"x":105.252,"p":0.12},{"x":105.252,"p":0.82},{"x":105.252,"p":1.24},
{"x":105.2555,"p":0.30},{"x":105.2555,"p":0.60},{"x":105.2555,"p":1.16},
{"x":105.259,"p":0.24},{"x":105.259,"p":0.96},{"x":105.259,"p":1.30},
{"x":105.2625,"p":0.40},{"x":105.2625,"p":0.74},{"x":105.2625,"p":1.20},
{"x":105.266,"p":0.06},{"x":105.266,"p":0.58},{"x":105.266,"p":1.12},
{"x":105.2695,"p":0.33},{"x":105.2695,"p":0.88},{"x":105.2695,"p":1.26},
{"x":105.273,"p":0.18},{"x":105.273,"p":0.64},{"x":105.273,"p":1.36},
{"x":105.2765,"p":0.42},{"x":105.2765,"p":0.92},{"x":105.2765,"p":1.18},
{"x":105.28,"p":0.10},{"x":105.28,"p":0.70},{"x":105.28,"p":1.30},
{"x":105.2835,"p":0.28},{"x":105.2835,"p":0.84},{"x":105.2835,"p":1.42},
{"x":105.287,"p":0.38},{"x":105.287,"p":0.60},{"x":105.287,"p":1.34},
{"x":105.2905,"p":0.15},{"x":105.2905,"p":0.94},{"x":105.2905,"p":1.50},
{"x":105.294,"p":0.30},{"x":105.294,"p":0.70},{"x":105.294,"p":1.10},
{"x":105.1094,"p":5.49},{"x":105.1881,"p":6.14},{"x":105.2663,"p":5.82},{"x":105.1057,"p":2.67},{"x":105.1111,"p":3.08},{"x":105.1126,"p":2.16},{"x":105.1236,"p":2.29},{"x":105.1251,"p":1.91},{"x":105.15,"p":2.47},{"x":105.1622,"p":1.51},{"x":105.1705,"p":2.29},{"x":105.1908,"p":2.29},{"x":105.2016,"p":2.25},{"x":105.2204,"p":3.35},{"x":105.2142,"p":1.61},{"x":105.2208,"p":1.91},{"x":105.2333,"p":1.26},{"x":105.2573,"p":2.43},{"x":105.2622,"p":1.54},{"x":105.283,"p":3.28},{"x":105.2827,"p":1.54},{"x":105.2922,"p":1.81},{"x":105.293,"p":1.68},{"x":105.2453,"p":1.43},{"x":105.2504,"p":1.26},{"x":105.2703,"p":1.19},{"x":105.2747,"p":1.19}
 ],
 "cC": [{"x":105.1089,"p":6.35,"c":"g"},{"x":105.2443,"p":6.04,"c":"g"},{"x":105.1977,"p":7.24,"c":"r"},{"x":105.1893,"p":7.31,"c":"d"}],
 "gC": [{"r":1,"s":104.9396,"e":105.2663,"lx":105.1024,"label":"SORCS3→"}],
 "eC": [{"r":1,"s":104.9775,"e":104.9775},{"r":1,"s":105.044,"e":105.044},{"r":1,"s":105.0904,"e":105.0904},{"r":1,"s":105.1062,"e":105.1062},{"r":1,"s":105.1401,"e":105.1401},{"r":1,"s":105.1483,"e":105.1483},{"r":1,"s":105.1583,"e":105.1583},{"r":1,"s":105.1602,"e":105.1602},{"r":1,"s":105.1648,"e":105.1648},{"r":1,"s":105.1676,"e":105.1676},{"r":1,"s":105.1794,"e":105.1794},{"r":1,"s":105.2012,"e":105.2012},{"r":1,"s":105.2026,"e":105.2026},{"r":1,"s":105.212,"e":105.212},{"r":1,"s":105.2148,"e":105.2148},{"r":1,"s":105.2177,"e":105.2177},{"r":1,"s":105.2245,"e":105.2245},{"r":1,"s":105.2466,"e":105.2466},{"r":1,"s":105.2484,"e":105.2484},{"r":1,"s":105.2538,"e":105.2538},{"r":1,"s":105.257,"e":105.257},{"r":1,"s":105.258,"e":105.258},{"r":1,"s":105.2638,"e":105.2663}]
}
}
